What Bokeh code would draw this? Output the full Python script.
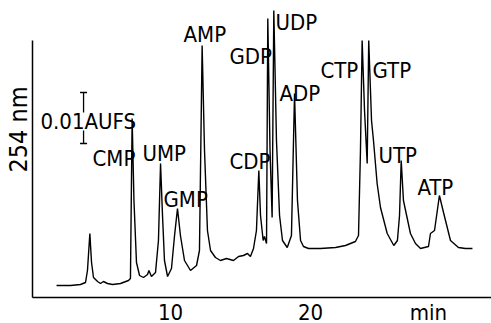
import math
from bokeh.plotting import figure
from bokeh.models import Range1d, FixedTicker
from bokeh.core.properties import value
from bokeh.embed import file_html
from bokeh.resources import INLINE

FONT = "DejaVu Sans Condensed"

# chromatogram trace: retention time (min) and detector signal (arbitrary units)
time_min = [1.86, 2.86, 3.57, 3.93, 4.07, 4.24, 4.36, 4.50, 4.79, 5.00, 5.21, 5.50, 5.86, 6.43,
            7.00, 7.14, 7.26, 7.39, 7.57, 7.79, 8.07, 8.36, 8.46, 8.64, 8.93, 9.14, 9.29, 9.43,
            9.57, 9.79, 10.07, 10.29, 10.50, 10.71, 11.00, 11.43, 11.86, 12.07, 12.26, 12.43,
            12.64, 12.86, 13.21, 13.57, 14.00, 14.50, 14.86, 15.21, 15.50, 15.71, 15.93, 16.14,
            16.31, 16.43, 16.62, 16.71, 16.86, 16.95, 17.11, 17.26, 17.38, 17.57, 17.79, 18.00,
            18.34, 18.64, 18.86, 19.07, 19.29, 19.50, 19.86, 20.71, 21.79, 22.50, 23.21, 23.43,
            23.57, 23.69, 23.86, 24.05, 24.16, 24.36, 24.50, 24.76, 25.00, 25.48, 25.95, 26.21,
            26.36, 26.48, 26.64, 27.14, 27.50, 27.86, 28.43, 28.57, 28.86, 29.21, 29.52, 30.00,
            30.57, 31.07, 31.57]
signal = [12, 12, 13, 15, 27, 64, 35, 20, 16, 14, 16, 14, 13, 14,
          17, 19, 179, 97, 35, 22, 20, 23, 27, 21, 25, 57, 134, 82,
          37, 21, 29, 62, 89, 62, 37, 27, 32, 47, 252, 147,
          67, 47, 40, 37, 39, 37, 41, 42, 44, 41, 49, 67,
          127, 82, 57, 61, 54, 279, 147, 80, 287, 157, 82, 57,
          50, 62, 204, 97, 57, 51, 49, 49, 50, 52, 56, 62,
          147, 257, 187, 134, 257, 177, 157, 114, 90, 64, 52, 57,
          82, 137, 97, 64, 54, 49, 51, 64, 67, 102, 84, 57,
          50, 49, 49]

# peak labels
peak_names = ["CMP", "UMP", "GMP", "AMP", "GDP", "CDP", "UDP", "ADP", "CTP", "GTP", "UTP", "ATP"]
label_t = [4.43, 8.00, 9.50, 10.93, 14.21, 14.21, 17.50, 17.79, 20.71, 24.43, 24.86, 27.64]
label_h = [139, 144, 98, 263, 241, 136, 275, 204, 227, 227, 142, 110]

# x axis ticks
tick_values = [10, 20, 28.43]
tick_labels = ["10", "20", "min"]

# y axis title
y_title = "254 nm"
y_title_t, y_title_h = -0.86, 168

# 0.01 AUFS scale bar
scale_text = "0.01AUFS"
scale_text_t, scale_text_h = 0.71, 176
scale_t = 3.79
scale_top, scale_gap_top, scale_gap_bottom, scale_bottom = 205, 185, 167, 154
scale_cap = 0.25

p = figure(width=491, height=323, output_backend="svg", toolbar_location=None,
           x_range=Range1d(-2.143, 32.93), y_range=Range1d(-26, 297),
           min_border_left=0, min_border_right=0, min_border_top=0, min_border_bottom=0)
p.outline_line_color = None
p.grid.visible = False
p.background_fill_color = "white"
p.border_fill_color = "white"

xa = p.xaxis[0]
xa.fixed_location = 0
xa.bounds = (0.14, 32.93)
xa.ticker = FixedTicker(ticks=tick_values)
xa.major_label_overrides = {v: s for v, s in zip(tick_values, tick_labels)}
xa.major_tick_in = 0
xa.major_tick_out = 0
xa.minor_tick_in = 0
xa.minor_tick_out = 0
xa.axis_line_width = 1.5
xa.axis_line_color = "black"
xa.major_label_text_font = FONT
xa.major_label_text_font_size = "22px"
xa.major_label_text_color = "black"
xa.major_label_standoff = 2

ya = p.yaxis[0]
ya.fixed_location = 0.14
ya.bounds = (0, 257)
ya.ticker = FixedTicker(ticks=[])
ya.major_tick_in = 0
ya.major_tick_out = 0
ya.minor_tick_in = 0
ya.minor_tick_out = 0
ya.axis_line_width = 1.5
ya.axis_line_color = "black"

p.line(time_min, signal, line_color="black", line_width=1.4)

p.text(x=label_t, y=label_h, text=peak_names, text_font=value(FONT), text_font_size="22px",
       text_baseline="middle", text_align="left", text_color="black")

p.text(x=[scale_text_t], y=[scale_text_h], text=[scale_text], text_font=value(FONT),
       text_font_size="22px", text_baseline="middle", text_align="left", text_color="black")

p.segment(x0=[scale_t, scale_t, scale_t - scale_cap, scale_t - scale_cap],
          y0=[scale_top, scale_gap_bottom, scale_top, scale_bottom],
          x1=[scale_t, scale_t, scale_t + scale_cap, scale_t + scale_cap],
          y1=[scale_gap_top, scale_bottom, scale_top, scale_bottom],
          line_color="black", line_width=1.3)

p.text(x=[y_title_t], y=[y_title_h], text=[y_title], angle=math.pi / 2,
       text_font=value(FONT), text_font_size="25px",
       text_align="center", text_baseline="middle", text_color="black")

open("out.html", "w").write(file_html(p, INLINE))
